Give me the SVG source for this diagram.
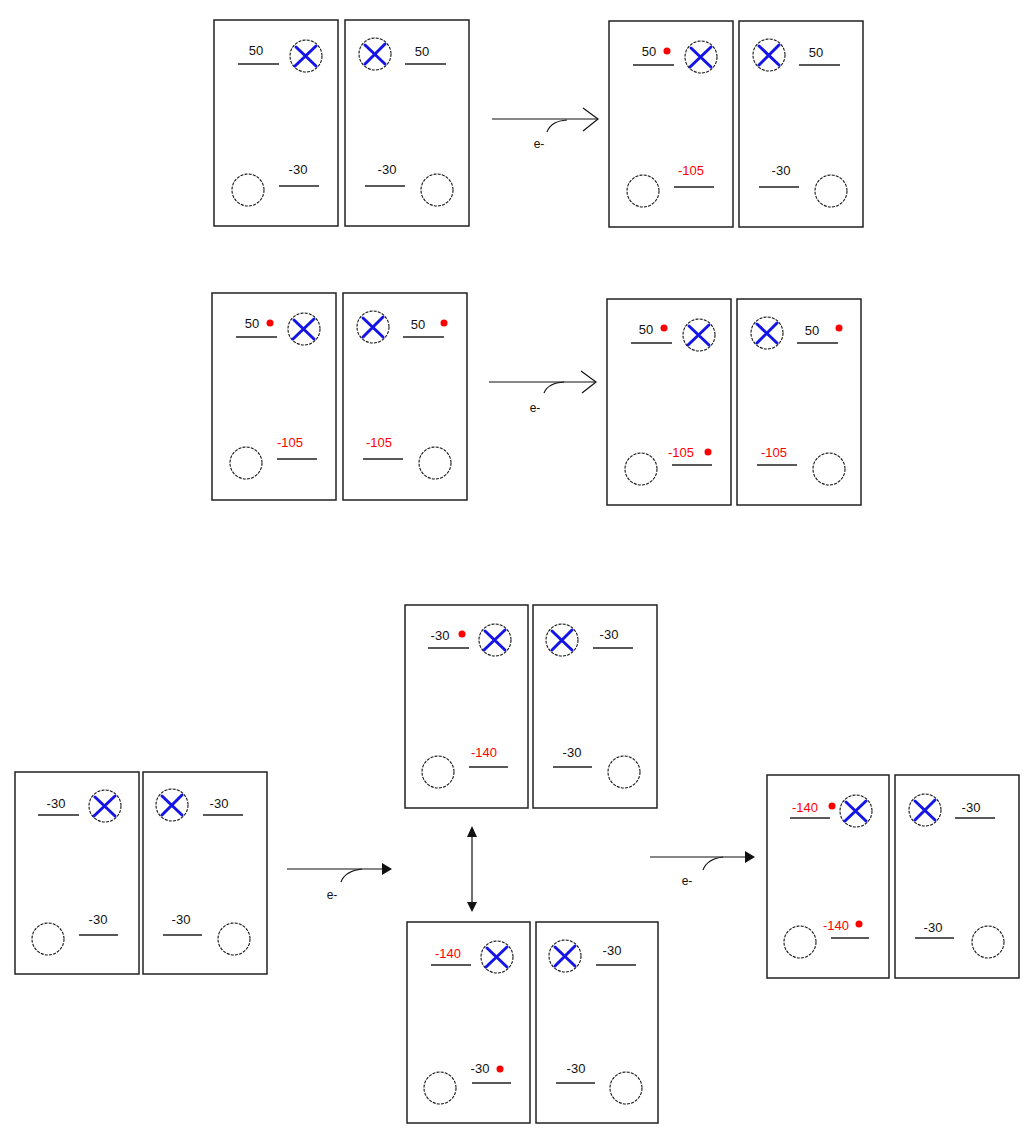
<svg xmlns="http://www.w3.org/2000/svg" width="1034" height="1134" viewBox="0 0 1034 1134">
<style>
.box{fill:#fff;stroke:#222;stroke-width:1.5}
.lvl{stroke:#222;stroke-width:1.3}
.orb{fill:none;stroke:#111;stroke-width:1.1;stroke-dasharray:3 1.2}
.x{fill:none;stroke:#1414e6;stroke-width:3;stroke-linecap:round}
.t{font-family:"Liberation Sans",Arial,sans-serif;font-size:13px;text-anchor:middle;fill:#111}
.r{fill:#ff0000}
.dot{fill:#ff0000}
.e{font-family:"Liberation Sans",Arial,sans-serif;font-size:12px;text-anchor:middle;fill:#111}
.ln{fill:none;stroke:#111;stroke-width:1.2}
.hd{fill:#111;stroke:none}
</style>
<rect width="1034" height="1134" fill="#fff"/>

<!-- Pair A -->
<g id="A-left" transform="translate(214,20)">
<rect class="box" width="124" height="206"/>
<line class="lvl" x1="24" y1="44" x2="65" y2="44"/>
<text class="t" x="42" y="35">50</text>
<circle class="orb" cx="92" cy="36" r="16"/>
<path class="x" d="M82,27 L102,46 M102,26 L81,46"/>
<circle class="orb" cx="34" cy="170" r="16"/>
<line class="lvl" x1="65" y1="166" x2="105" y2="166"/>
<text class="t" x="84" y="154">-30</text>
</g>
<g id="A-right" transform="translate(345,20)">
<rect class="box" width="124" height="206"/>
<circle class="orb" cx="30" cy="34" r="16"/>
<path class="x" d="M20,25 L40,44 M40,24 L20,44"/>
<line class="lvl" x1="60" y1="44" x2="101" y2="44"/>
<text class="t" x="77" y="36">50</text>
<line class="lvl" x1="20" y1="166" x2="60" y2="166"/>
<text class="t" x="42" y="154">-30</text>
<circle class="orb" cx="92" cy="170" r="16"/>
</g>

<!-- Pair B -->
<g id="B-left" transform="translate(609,21)">
<rect class="box" width="124" height="206"/>
<line class="lvl" x1="24" y1="44" x2="65" y2="44"/>
<text class="t" x="40" y="35">50</text>
<circle class="dot" cx="58" cy="30" r="3.5"/>
<circle class="orb" cx="92" cy="36" r="16"/>
<path class="x" d="M82,27 L102,46 M102,26 L81,46"/>
<circle class="orb" cx="34" cy="170" r="16"/>
<line class="lvl" x1="65" y1="166" x2="105" y2="166"/>
<text class="t r" x="82" y="154">-105</text>
</g>
<g id="B-right" transform="translate(739,21)">
<rect class="box" width="124" height="206"/>
<circle class="orb" cx="30" cy="34" r="16"/>
<path class="x" d="M20,25 L40,44 M40,24 L20,44"/>
<line class="lvl" x1="60" y1="44" x2="101" y2="44"/>
<text class="t" x="77" y="36">50</text>
<line class="lvl" x1="20" y1="166" x2="60" y2="166"/>
<text class="t" x="42" y="154">-30</text>
<circle class="orb" cx="92" cy="170" r="16"/>
</g>

<!-- Pair C -->
<g id="C-left" transform="translate(212,293)">
<rect class="box" width="124" height="207"/>
<line class="lvl" x1="24" y1="44" x2="65" y2="44"/>
<text class="t" x="40" y="35">50</text>
<circle class="dot" cx="58" cy="30" r="3.5"/>
<circle class="orb" cx="92" cy="36" r="16"/>
<path class="x" d="M82,27 L102,46 M102,26 L81,46"/>
<circle class="orb" cx="34" cy="170" r="16"/>
<line class="lvl" x1="65" y1="166" x2="105" y2="166"/>
<text class="t r" x="78" y="154">-105</text>
</g>
<g id="C-right" transform="translate(343,293)">
<rect class="box" width="124" height="207"/>
<circle class="orb" cx="30" cy="34" r="16"/>
<path class="x" d="M20,25 L40,44 M40,24 L20,44"/>
<line class="lvl" x1="60" y1="44" x2="101" y2="44"/>
<text class="t" x="75" y="36">50</text>
<circle class="dot" cx="101" cy="30" r="3.5"/>
<line class="lvl" x1="20" y1="166" x2="60" y2="166"/>
<text class="t r" x="36" y="154">-105</text>
<circle class="orb" cx="92" cy="170" r="16"/>
</g>

<!-- Pair D -->
<g id="D-left" transform="translate(607,299)">
<rect class="box" width="124" height="206"/>
<line class="lvl" x1="24" y1="44" x2="65" y2="44"/>
<text class="t" x="39" y="35">50</text>
<circle class="dot" cx="57" cy="29" r="3.5"/>
<circle class="orb" cx="92" cy="36" r="16"/>
<path class="x" d="M82,27 L102,46 M102,26 L81,46"/>
<circle class="orb" cx="34" cy="170" r="16"/>
<line class="lvl" x1="65" y1="166" x2="105" y2="166"/>
<text class="t r" x="74" y="158">-105</text>
<circle class="dot" cx="101" cy="153" r="3.5"/>
</g>
<g id="D-right" transform="translate(737,299)">
<rect class="box" width="124" height="206"/>
<circle class="orb" cx="30" cy="34" r="16"/>
<path class="x" d="M20,25 L40,44 M40,24 L20,44"/>
<line class="lvl" x1="60" y1="44" x2="101" y2="44"/>
<text class="t" x="75" y="36">50</text>
<circle class="dot" cx="102" cy="29" r="3.5"/>
<line class="lvl" x1="20" y1="166" x2="60" y2="166"/>
<text class="t r" x="37" y="158">-105</text>
<circle class="orb" cx="92" cy="170" r="16"/>
</g>

<!-- Pair E -->
<g id="E-left" transform="translate(15,772)">
<rect class="box" width="124" height="202"/>
<line class="lvl" x1="23" y1="43" x2="64" y2="43"/>
<text class="t" x="41" y="36">-30</text>
<circle class="orb" cx="90" cy="34" r="16"/>
<path class="x" d="M80,25 L100,44 M100,24 L79,44"/>
<circle class="orb" cx="33" cy="167" r="16"/>
<line class="lvl" x1="64" y1="163" x2="103" y2="163"/>
<text class="t" x="83" y="152">-30</text>
</g>
<g id="E-right" transform="translate(143,772)">
<rect class="box" width="124" height="202"/>
<circle class="orb" cx="29" cy="33" r="16"/>
<path class="x" d="M19,24 L39,43 M39,23 L19,43"/>
<line class="lvl" x1="60" y1="43" x2="100" y2="43"/>
<text class="t" x="76" y="36">-30</text>
<line class="lvl" x1="20" y1="163" x2="59" y2="163"/>
<text class="t" x="38" y="152">-30</text>
<circle class="orb" cx="91" cy="167" r="16"/>
</g>

<!-- Pair F -->
<g id="F-left" transform="translate(405,605)">
<rect class="box" width="123" height="203"/>
<line class="lvl" x1="23" y1="43" x2="64" y2="43"/>
<text class="t" x="35" y="35">-30</text>
<circle class="dot" cx="57" cy="29" r="3.5"/>
<circle class="orb" cx="90" cy="35" r="16"/>
<path class="x" d="M80,26 L100,45 M100,25 L79,45"/>
<circle class="orb" cx="33" cy="167" r="16"/>
<line class="lvl" x1="64" y1="162" x2="103" y2="162"/>
<text class="t r" x="79" y="152">-140</text>
</g>
<g id="F-right" transform="translate(533,605)">
<rect class="box" width="124" height="203"/>
<circle class="orb" cx="29" cy="35" r="16"/>
<path class="x" d="M19,26 L39,45 M39,25 L19,45"/>
<line class="lvl" x1="60" y1="43" x2="100" y2="43"/>
<text class="t" x="76" y="34">-30</text>
<line class="lvl" x1="20" y1="162" x2="59" y2="162"/>
<text class="t" x="39" y="152">-30</text>
<circle class="orb" cx="91" cy="167" r="16"/>
</g>

<!-- Pair G -->
<g id="G-left" transform="translate(407,922)">
<rect class="box" width="123" height="201"/>
<line class="lvl" x1="24" y1="43" x2="64" y2="43"/>
<text class="t r" x="41" y="36">-140</text>
<circle class="orb" cx="90" cy="35" r="16"/>
<path class="x" d="M80,26 L100,45 M100,25 L79,45"/>
<circle class="orb" cx="33" cy="166" r="16"/>
<line class="lvl" x1="65" y1="161" x2="104" y2="161"/>
<text class="t" x="73" y="151">-30</text>
<circle class="dot" cx="93" cy="147" r="3.5"/>
</g>
<g id="G-right" transform="translate(536,922)">
<rect class="box" width="122" height="201"/>
<circle class="orb" cx="29" cy="34" r="16"/>
<path class="x" d="M19,25 L39,44 M39,24 L19,44"/>
<line class="lvl" x1="60" y1="43" x2="100" y2="43"/>
<text class="t" x="76" y="33">-30</text>
<line class="lvl" x1="20" y1="161" x2="59" y2="161"/>
<text class="t" x="40" y="151">-30</text>
<circle class="orb" cx="90" cy="166" r="16"/>
</g>

<!-- Pair H -->
<g id="H-left" transform="translate(767,775)">
<rect class="box" width="122" height="203"/>
<line class="lvl" x1="23" y1="43" x2="63" y2="43"/>
<text class="t r" x="38" y="37">-140</text>
<circle class="dot" cx="65" cy="31" r="3.5"/>
<circle class="orb" cx="89" cy="36" r="16"/>
<path class="x" d="M79,27 L99,46 M99,26 L78,46"/>
<circle class="orb" cx="33" cy="167" r="16"/>
<line class="lvl" x1="64" y1="163" x2="102" y2="163"/>
<text class="t r" x="69" y="155">-140</text>
<circle class="dot" cx="92" cy="149" r="3.5"/>
</g>
<g id="H-right" transform="translate(895,775)">
<rect class="box" width="124" height="203"/>
<circle class="orb" cx="30" cy="35" r="16"/>
<path class="x" d="M20,26 L40,45 M40,25 L20,45"/>
<line class="lvl" x1="60" y1="43" x2="100" y2="43"/>
<text class="t" x="76" y="37">-30</text>
<line class="lvl" x1="20" y1="163" x2="59" y2="163"/>
<text class="t" x="38" y="157">-30</text>
<circle class="orb" cx="93" cy="167" r="16"/>
</g>

<!-- Connectors -->
<g id="connectors">
<line class="ln" x1="492" y1="119" x2="598" y2="119"/>
<polyline class="ln" points="583,108 598,119 583,131"/>
<path class="ln" d="M547,132 Q551,121 567,120"/>
<text class="e" x="539" y="148">e-</text>

<line class="ln" x1="489" y1="382" x2="596" y2="382"/>
<polyline class="ln" points="581,371 596,382 582,393"/>
<path class="ln" d="M544,393 Q548,383 564,382"/>
<text class="e" x="535" y="412">e-</text>

<line class="ln" x1="287" y1="869" x2="384" y2="869"/>
<polygon class="hd" points="382,863 392,869 382,875"/>
<path class="ln" d="M341,882 Q345,871 362,869"/>
<text class="e" x="332" y="899">e-</text>

<line class="ln" x1="472" y1="836" x2="472" y2="903"/>
<polygon class="hd" points="467,837 472,826 477,837"/>
<polygon class="hd" points="467,902 472,912 477,902"/>

<line class="ln" x1="650" y1="857" x2="746" y2="857"/>
<polygon class="hd" points="745,851 755,857 745,863"/>
<path class="ln" d="M703,870 Q707,859 723,857"/>
<text class="e" x="687" y="885">e-</text>
</g>
</svg>
